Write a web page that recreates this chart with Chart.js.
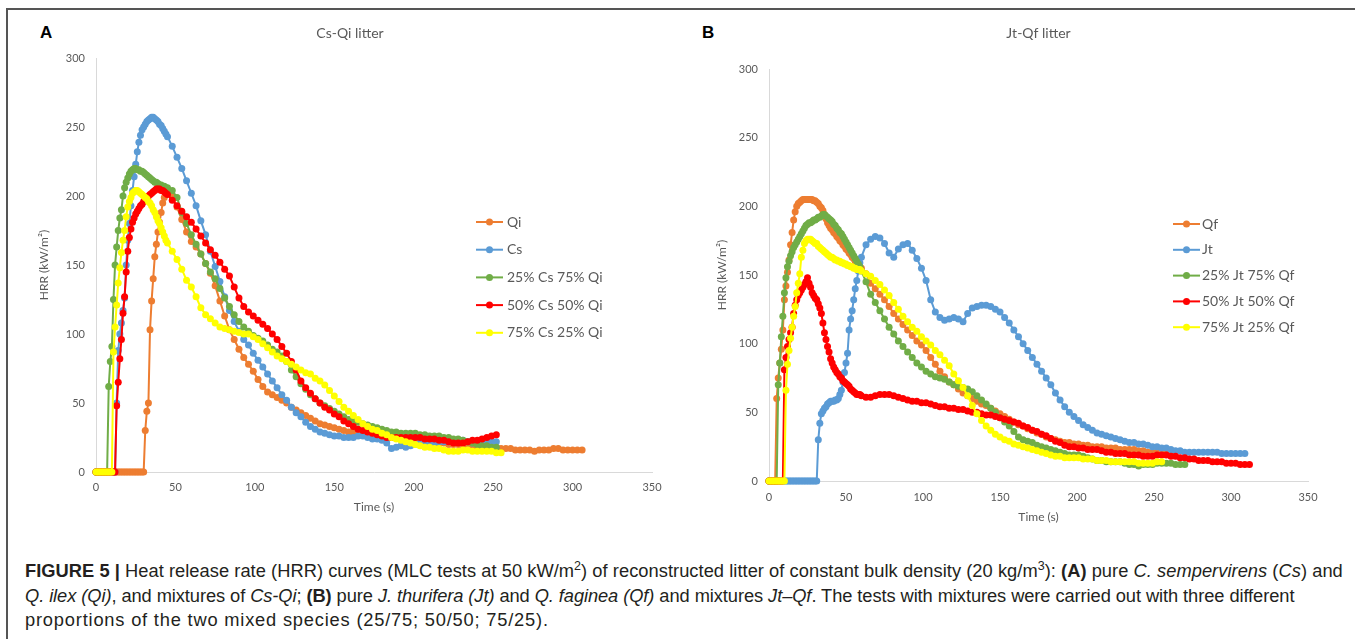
<!DOCTYPE html>
<html>
<head>
<meta charset="utf-8">
<title>Figure 5 HRR</title>
<script src="https://cdn.jsdelivr.net/npm/chart.js@4.4.1/dist/chart.umd.min.js"></script>
<style>
    body {
        margin: 0;
        width: 1355px;
        height: 639px;
        overflow: hidden;
        position: relative;
        background: #fff;
        font-family: "Liberation Sans", Arial, sans-serif;
    }
    .frame {
        position: absolute;
        left: 6px;
        top: 8px;
        right: 0;
        bottom: 0;
        border-top: 2px solid #555;
        border-left: 2px solid #555;
    }
    .panel-letter {
        position: absolute;
        font: bold 17px "Liberation Sans", Arial, sans-serif;
        color: #000;
        line-height: 20px;
    }
    canvas {
        position: absolute;
    }
    .caption {
        position: absolute;
        left: 25px;
        top: 559px;
        font-size: 18.3px;
        line-height: 24.5px;
        color: #231f20;
        white-space: nowrap;
    }
    .caption div {
        height: 24.5px;
    }
    .caption sup {
        font-size: 12.5px;
        line-height: 0;
    }
</style>
</head>
<body>
<div class="frame"></div>
<div class="panel-letter" style="left:40px; top:23px;">A</div>
<div class="panel-letter" style="left:702px; top:23px;">B</div>
<canvas id="chartA" width="680" height="510" style="left:10px; top:10px;"></canvas>
<canvas id="chartB" width="640" height="520" style="left:715px; top:10px;"></canvas>
<div class="caption">
    <div style="letter-spacing:0.04px;"><b>FIGURE 5 |</b> Heat release rate (HRR) curves (MLC tests at 50 kW/m<sup>2</sup>) of reconstructed litter of constant bulk density (20 kg/m<sup>3</sup>): <b>(A)</b> pure <i>C. sempervirens</i> (<i>Cs</i>) and</div>
    <div style="letter-spacing:-0.08px;"><i>Q. ilex (Qi)</i>, and mixtures of <i>Cs-Qi</i>; <b>(B)</b> pure <i>J. thurifera (Jt)</i> and <i>Q. faginea (Qf)</i> and mixtures <i>Jt–Qf</i>. The tests with mixtures were carried out with three different</div>
    <div style="letter-spacing:0.8px;">proportions of the two mixed species (25/75; 50/50; 75/25).</div>
</div>
<script>
// оси
const xTicks = [0, 50, 100, 150, 200, 250, 300, 350];
const yTicks = [0, 50, 100, 150, 200, 250, 300];

// A: Cs-Qi litter
const labelsA = ['Qi', 'Cs', '25% Cs 75% Qi', '50% Cs 50% Qi', '75% Cs 25% Qi'];
const timeA = [
    0, 1, 2, 3, 4, 5, 6, 7, 8, 9, 10, 11, 12, 13, 14, 15, 16, 17, 18, 19,
    20, 21, 22, 23, 24, 25, 26, 27, 28, 29, 30, 31, 32, 33, 34, 35, 36, 37, 38, 39,
    40, 41, 42, 43, 44, 45,
    48, 51, 54, 57, 60, 63, 66, 69, 72, 75, 78, 81, 84, 87, 90, 93, 96, 99, 102, 105,
    108, 111, 114, 117, 120, 123, 126, 129, 132, 135, 138, 141, 144, 147, 150, 153, 156, 159, 162, 165,
    168, 171, 174, 177, 180, 183, 186, 189, 192, 195, 198, 201, 204, 207, 210, 213, 216, 219, 222, 225,
    228, 231, 234, 237, 240, 243, 246, 249, 252, 255, 258, 261, 264, 267, 270, 273, 276, 279, 282, 285,
    288, 291, 294, 297, 300, 303, 306,
];
const qiA = [
    0, 0, 0, 0, 0, 0, 0, 0, 0, 0, 0, 0, 0, 0, 0, 0, 0, 0, 0, 0,
    0, 0, 0, 0, 0, 0, 0, 0, 0, 0, 0, 30, 44, 50, 103, 124, 140, 156, 165, 174,
    181, 188, 195, 199, 202, 204,
    200, 192, 183, 174, 167, 163, 158, 151, 144, 135, 124, 113, 103, 96, 89, 83, 78, 73, 67, 62,
    58, 56, 54, 52, 50, 47, 45, 43, 41, 39, 37, 35, 34, 33, 32, 31, 30, 29, 29, 28,
    28, 27, 27, 26, 26, 25, 25, 25, 24, 24, 23, 23, 22, 22, 22, 21, 21, 21, 20, 20,
    20, 19, 19, 19, 18, 18, 18, 18, 18, 17, 17, 17, 16, 16, 16, 16, 15, 16, 16, 16,
    17, 17, 16, 16, 16, 16, 16,
];
const csA = [
    0, 0, 0, 0, 0, 0, 0, 0, 0, 0, 0, 0, 0, 50, 88, 100, 108, 117, 126, 150,
    168, 180, 193, 204, 214, 223, 232, 239, 244, 248, 250, 252, 254, 255, 256, 257, 257, 256, 255, 254,
    252, 251, 249, 247, 245, 243,
    236, 228, 220, 211, 202, 193, 182, 172, 160, 149, 138, 127, 117, 109, 102, 96, 92, 86, 81, 76,
    71, 66, 61, 56, 52, 47, 43, 40, 36, 33, 31, 29, 28, 27, 26, 26, 25, 25, 25, 26,
    26, 25, 24, 24, 23, 21, 17, 18, 19, 18, 19, 20, 21, 21, 21, 21, 22, 22, 22, 22,
    22, 23, 22, 21, 21, 21, 21, 22, 22,
];
const mix25A = [
    0, 0, 0, 0, 0, 0, 0, 0, 62, 80, 91, 125, 150, 163, 175, 184, 190, 200, 206, 210,
    213, 216, 218, 219, 220, 220, 219, 219, 218, 218, 217, 216, 215, 214, 213, 212, 211, 210, 210, 209,
    208, 208, 207, 207, 206, 206,
    204, 199, 188, 180, 172, 165, 158, 151, 145, 140, 133, 126, 120, 114, 109, 105, 102, 99, 97, 95,
    92, 89, 87, 84, 80, 74, 69, 64, 60, 56, 53, 50, 48, 46, 44, 42, 40, 38, 37, 36,
    35, 34, 33, 32, 31, 30, 29, 29, 28, 28, 28, 28, 27, 27, 26, 26, 26, 25, 25, 24,
    24, 23, 22, 21, 20, 19, 19, 18, 18,
];
const mix50A = [
    0, 0, 0, 0, 0, 0, 0, 0, 0, 0, 0, 0, 0, 48, 65, 82, 96, 115, 127, 145,
    160, 170, 176, 181, 184, 187, 189, 191, 193, 194, 196, 197, 198, 200, 201, 202, 203, 204, 205, 205,
    205, 204, 204, 203, 202, 201,
    197, 193, 189, 185, 181, 176, 171, 166, 161, 157, 152, 147, 142, 134, 126, 120, 116, 113, 110, 107,
    104, 100, 96, 91, 86, 80, 74, 66, 61, 57, 53, 50, 47, 45, 42, 40, 37, 35, 33, 31,
    30, 29, 28, 27, 26, 25, 25, 25, 25, 25, 25, 25, 25, 24, 24, 24, 23, 23, 22, 21,
    21, 21, 22, 23, 23, 24, 25, 26, 27,
];
const mix75A = [
    0, 0, 0, 0, 0, 0, 0, 0, 0, 0, 0, 87, 105, 121, 137, 148, 159, 168, 175, 185,
    192, 196, 199, 202, 203, 204, 204, 203, 202, 201, 200, 199, 198, 196, 195, 193, 190, 188, 185, 182,
    180, 177, 174, 171, 168, 166,
    160, 154, 147, 139, 134, 127, 119, 114, 111, 108, 105, 104, 103, 102, 101, 100, 100, 98, 96, 93,
    90, 87, 84, 82, 80, 78, 76, 74, 72, 71, 68, 66, 63, 59, 55, 51, 47, 44, 41, 38,
    35, 33, 31, 30, 28, 27, 25, 24, 23, 22, 21, 20, 19, 18, 18, 17, 17, 16, 15, 15,
    15, 16, 16, 15, 15, 15, 15, 15, 14, 14,
];

// B: Jt-Qf litter
const labelsB = ['Qf', 'Jt', '25% Jt 75% Qf', '50% Jt 50% Qf', '75% Jt 25% Qf'];
const timeB = [
    0, 1, 2, 3, 4, 5, 6, 7, 8, 9, 10, 11, 12, 13, 14, 15, 16, 17, 18, 19,
    20, 21, 22, 23, 24, 25, 26, 27, 28, 29, 30, 31, 32, 33, 34, 35, 36, 37, 38, 39,
    40, 41, 42, 43, 44, 45, 46, 47, 48, 49, 50, 51, 52, 53, 54, 55, 56, 57, 58, 59,
    60,
    63, 66, 69, 72, 75, 78, 81, 84, 87, 90, 93, 96, 99, 102, 105, 108, 111, 114, 117, 120,
    123, 126, 129, 132, 135, 138, 141, 144, 147, 150, 153, 156, 159, 162, 165, 168, 171, 174, 177, 180,
    183, 186, 189, 192, 195, 198, 201, 204, 207, 210, 213, 216, 219, 222, 225, 228, 231, 234, 237, 240,
    243, 246, 249, 252, 255, 258, 261, 264, 267, 270, 273, 276, 279, 282, 285, 288, 291, 294, 297, 300,
    303, 306, 309, 312,
];
const qfB = [
    0, 0, 0, 0, 0, 60, 75, 86, 96, 110, 132, 142, 152, 161, 172, 181, 190, 196, 200, 202,
    203, 204, 205, 205, 205, 205, 205, 205, 205, 204, 204, 203, 202, 200, 199, 197, 194, 191, 188, 186,
    184, 183, 181, 180, 178, 177, 175, 174, 172, 171, 169, 168, 166, 165, 163, 162, 160, 159, 157, 156,
    155,
    151, 144, 140, 136, 132, 127, 122, 118, 114, 110, 106, 102, 99, 95, 90, 85, 80, 76, 72, 70,
    67, 64, 62, 60, 58, 56, 55, 53, 51, 49, 47, 45, 43, 41, 40, 38, 37, 35, 34, 32,
    31, 30, 29, 28, 28, 27, 27, 26, 26, 25, 25, 25, 24, 24, 24, 23, 23, 23, 23, 22,
    22, 21, 21, 21, 20, 20, 20,
];
const jtB = [
    0, 0, 0, 0, 0, 0, 0, 0, 0, 0, 0, 0, 0, 0, 0, 0, 0, 0, 0, 0,
    0, 0, 0, 0, 0, 0, 0, 0, 0, 0, 0, 0, 30, 42, 49, 51, 53, 54, 56, 57,
    58, 58, 58, 59, 59, 60, 63, 66, 72, 79, 86, 93, 110, 118, 124, 132, 140, 146, 153, 159,
    163,
    172, 176, 178, 177, 173, 166, 163, 169, 172, 173, 168, 162, 155, 146, 132, 123, 119, 117, 118, 119,
    118, 116, 122, 126, 127, 128, 128, 127, 125, 123, 119, 115, 110, 105, 100, 95, 90, 85, 80, 75,
    70, 64, 59, 54, 50, 47, 44, 41, 39, 37, 35, 34, 33, 32, 31, 30, 29, 28, 28, 27,
    27, 26, 25, 25, 24, 24, 23, 22, 22, 21, 21, 21, 21, 21, 21, 21, 21, 20, 20, 20,
    20, 20, 20,
];
const mix25B = [
    0, 0, 0, 0, 0, 0, 70, 86, 105, 120, 137, 148, 156, 160, 164, 167, 170, 172, 174, 176,
    178, 180, 182, 184, 186, 187, 188, 188, 189, 190, 190, 191, 192, 192, 193, 194, 194, 193, 192, 191,
    190, 189, 187, 186, 184, 183, 181, 180, 178, 176, 174, 172, 170, 168, 166, 164, 162, 160, 158, 156,
    153,
    145, 136, 130, 124, 118, 112, 107, 102, 98, 94, 90, 86, 83, 80, 78, 76, 75, 74, 72, 70,
    69, 68, 67, 65, 62, 59, 56, 53, 50, 46, 43, 40, 36, 32, 30, 29, 28, 26, 25, 24,
    23, 22, 21, 20, 19, 19, 19, 18, 17, 16, 15, 15, 14, 14, 14, 14, 13, 12, 12, 11,
    12, 12, 12, 13, 13, 13, 13, 12, 12, 12,
];
const mix50B = [
    0, 0, 0, 0, 0, 0, 0, 0, 0, 0, 81, 90, 98, 103, 108, 112, 122, 128, 132, 135,
    137, 139, 141, 143, 145, 148, 144, 141, 137, 135, 133, 132, 129, 126, 122, 115, 108, 103, 98, 94,
    89, 86, 83, 81, 79, 78, 76, 75, 73, 72, 71, 70, 69, 67, 66, 65, 64, 63, 63, 63,
    62,
    61, 61, 62, 63, 63, 63, 62, 61, 60, 59, 58, 58, 57, 57, 56, 55, 54, 54, 53, 53,
    52, 52, 51, 50, 50, 49, 48, 48, 47, 46, 45, 44, 43, 42, 40, 39, 37, 36, 34, 33,
    31, 29, 28, 26, 25, 25, 24, 24, 23, 23, 23, 22, 21, 21, 20, 20, 20, 19, 19, 19,
    18, 18, 18, 19, 19, 19, 18, 18, 17, 17, 16, 16, 15, 15, 15, 14, 14, 14, 13, 13,
    13, 12, 12, 12,
];
const mix75B = [
    0, 0, 0, 0, 0, 0, 0, 0, 0, 0, 0, 66, 85, 95, 104, 112, 120, 127, 137, 144,
    151, 163, 168, 173, 175, 176, 176, 176, 175, 174, 173, 173, 171, 170, 169, 168, 167, 166, 165, 164,
    163, 163, 162, 161, 161, 160, 160, 159, 159, 158, 158, 157, 157, 156, 156, 155, 155, 154, 154, 154,
    153,
    151, 149, 146, 143, 139, 135, 130, 125, 120, 116, 112, 109, 105, 102, 99, 95, 92, 88, 84, 78,
    73, 68, 62, 55, 49, 44, 40, 37, 34, 32, 30, 29, 27, 26, 25, 24, 23, 22, 21, 20,
    19, 18, 18, 17, 17, 17, 17, 16, 16, 16, 15, 15, 15, 14, 14, 14, 14, 14, 14, 13,
    13, 13, 13, 14, 14,
];

const seriesColors = ['#ED7D31', '#5B9BD5', '#70AD47', '#FF0000', '#FFFF00'];

/**
 * Легенда в стиле Excel: линия с маркером и подпись.
 */
const litterLegend = {
    id: 'litterLegend',
    afterDraw(chart, args, opts) {
        const ctx = chart.ctx;
        ctx.save();
        ctx.font = '14px Lato';
        ctx.textBaseline = 'middle';
        chart.data.datasets.forEach((ds, i) => {
            const y = opts.top + i * opts.gap;
            ctx.strokeStyle = ds.borderColor;
            ctx.lineWidth = 2;
            ctx.beginPath();
            ctx.moveTo(opts.left, y);
            ctx.lineTo(opts.left + 27, y);
            ctx.stroke();
            ctx.fillStyle = ds.borderColor;
            ctx.beginPath();
            ctx.arc(opts.left + 13.5, y, 3.5, 0, Math.PI * 2);
            ctx.fill();
            ctx.fillStyle = '#595959';
            ctx.fillText(ds.label, opts.left + opts.textGap, y);
        });
        ctx.restore();
    },
};

const HrrCharts = {
    font: { family: 'Lato', size: 11 },
    titleFont: { family: 'Lato', size: 12 },

    toPoints(time, values) {
        return values.map((v, i) => ({ x: time[i], y: v }));
    },

    /**
     * Построить одну панель.
     */
    render(canvasId, p) {
        const ctx = document.getElementById(canvasId).getContext('2d');
        const datasets = p.series.map((values, i) => ({
            label: p.labels[i],
            data: this.toPoints(p.time, values),
            borderColor: seriesColors[i],
            backgroundColor: seriesColors[i],
            pointBackgroundColor: seriesColors[i],
            pointBorderColor: seriesColors[i],
            borderWidth: 2,
            pointRadius: 3.5,
            pointBorderWidth: 0,
            tension: 0,
            clip: false,
            order: p.series.length - i,
        }));

        return new Chart(ctx, {
            type: 'line',
            data: { datasets },
            plugins: [litterLegend],
            options: {
                responsive: false,
                animation: false,
                events: [],
                layout: { padding: { left: p.padLeft, right: p.padRight, top: 0, bottom: 0 } },
                plugins: {
                    legend: { display: false },
                    tooltip: { enabled: false },
                    title: {
                        display: true,
                        text: p.title,
                        fullSize: p.titleFull,
                        color: '#595959',
                        font: { family: 'Lato', size: 14, weight: 'normal' },
                        padding: { top: 14.6, bottom: p.titleBottom },
                    },
                    litterLegend: p.legend,
                },
                scales: {
                    x: {
                        type: 'linear',
                        min: 0,
                        max: 350,
                        afterBuildTicks: (s) => { s.ticks = xTicks.map(v => ({ value: v })); },
                        afterFit: (s) => { s.height = p.xHeight; },
                        grid: { display: false, drawTicks: false },
                        border: { display: true, color: '#D9D9D9', width: 1 },
                        ticks: { color: '#595959', font: this.font, padding: p.xPad, maxRotation: 0 },
                        title: {
                            display: true,
                            text: 'Time (s)',
                            color: '#595959',
                            font: this.titleFont,
                            padding: { top: 0, bottom: 5.8 },
                        },
                    },
                    y: {
                        min: 0,
                        max: 300,
                        afterBuildTicks: (s) => { s.ticks = yTicks.map(v => ({ value: v })); },
                        afterFit: (s) => { s.width = p.yWidth; },
                        grid: { display: false, drawTicks: false },
                        border: { display: true, color: '#D9D9D9', width: 1 },
                        ticks: { color: '#595959', font: this.font, padding: 11 },
                        title: {
                            display: true,
                            text: 'HRR (kW/m²)',
                            color: '#595959',
                            font: this.titleFont,
                            padding: { top: p.yTitlePad, bottom: 0 },
                        },
                    },
                },
            },
        });
    },
};

// заголовок A центрирован по всей ширине панели, B — по области графика
HrrCharts.render('chartA', {
    title: 'Cs-Qi litter',
    titleFull: true,
    labels: labelsA,
    time: timeA,
    series: [qiA, csA, mix25A, mix50A, mix75A],
    padLeft: 38,
    padRight: 38,
    titleBottom: 16.6,
    xHeight: 48,
    xPad: 8.4,
    yWidth: 48,
    yTitlePad: -11.2,
    legend: { left: 466, top: 212, gap: 27.7, textGap: 31 },
});

HrrCharts.render('chartB', {
    title: 'Jt-Qf litter',
    titleFull: false,
    labels: labelsB,
    time: timeB,
    series: [qfB, jtB, mix25B, mix50B, mix75B],
    padLeft: 0,
    padRight: 47,
    titleBottom: 27.6,
    xHeight: 49,
    xPad: 9.4,
    yWidth: 54,
    yTitlePad: -0.2,
    legend: { left: 458, top: 214, gap: 25.8, textGap: 29 },
});
</script>
</body>
</html>
